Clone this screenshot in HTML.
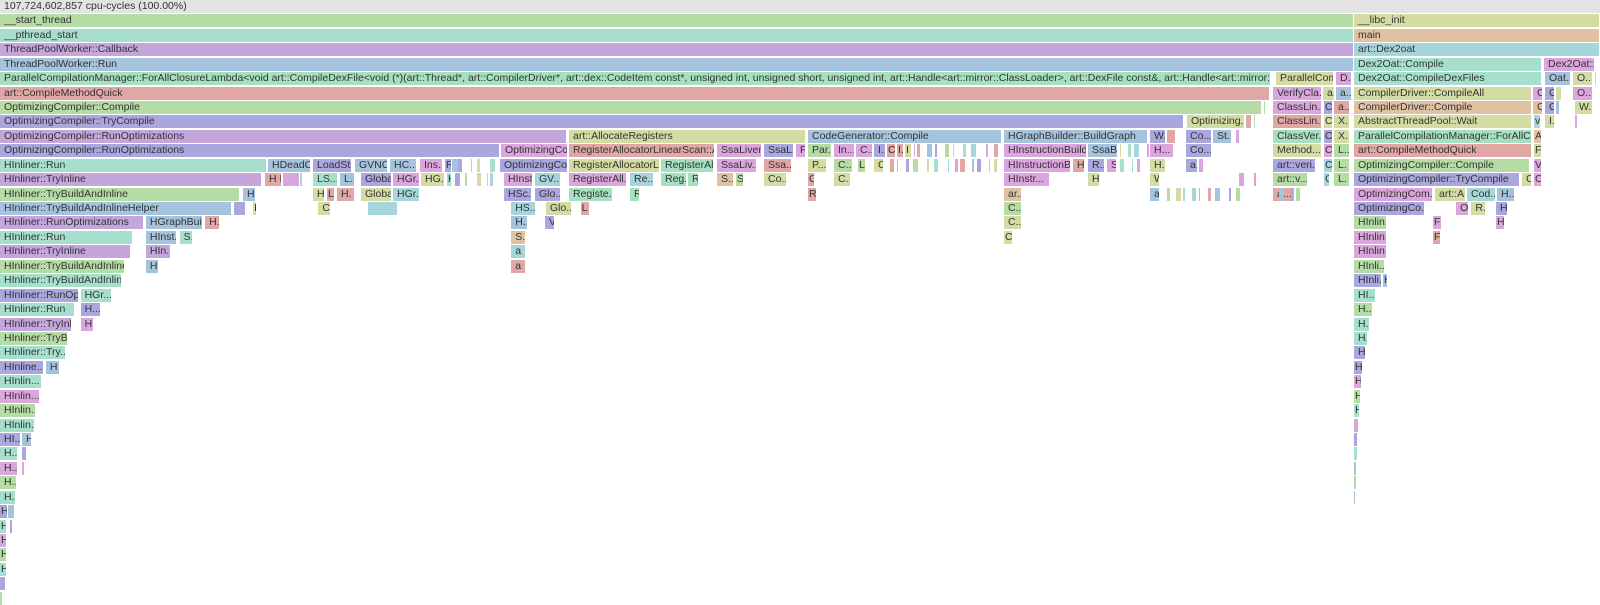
<!DOCTYPE html>
<html><head><meta charset="utf-8">
<style>
html,body{margin:0;padding:0;background:#fff;}
#c{position:relative;width:1600px;height:605px;overflow:hidden;font-family:"Liberation Sans",sans-serif;font-size:10.5px;color:#333;}
.b{position:absolute;height:13px;line-height:13px;overflow:hidden;white-space:nowrap;padding-left:4px;box-sizing:border-box;}
</style></head><body><div id="c"></div>
<script>
var C={G:'#b6dca5',T:'#a6dfcd',P:'#c4a6dc',B:'#a6c3de',R:'#e0a7a5',L:'#aaa6de',K:'#dba6dd',Y:'#d4dca4',O:'#e0c2a2',C:'#a6d6dc',M:'#a6e0c0'};
var S=1.0204,H=14.43;
var d=[
[1,0,1327,'G','__start_thread'],[1,1354,1600,'Y','__libc_init',1],
[2,0,1327,'T','__pthread_start'],[2,1354,1600,'O','main',1],
[3,0,1327,'P','ThreadPoolWorker::Callback'],[3,1354,1600,'C','art::Dex2oat',1],
[4,0,1327,'B','ThreadPoolWorker::Run'],[4,1354,1542,'T','Dex2Oat::Compile',1],[4,1544,1595,'K','Dex2Oat::...',1],
[5,0,1246,'M','ParallelCompilationManager::ForAllClosureLambda<void art::CompileDexFile<void (*)(art::Thread*, art::CompilerDriver*, art::dex::CodeItem const*, unsigned int, unsigned short, unsigned int, art::Handle<art::mirror::ClassLoader>, art::DexFile const&, art::Handle<art::mirror::DexCache>, unsigned short)>(art::...'],
[5,1276,1334,'Y','ParallelCom...',1],[5,1336,1352,'K','D...',1],[5,1354,1542,'T','Dex2Oat::CompileDexFiles',1],[5,1545,1571,'B','Oat...',1],[5,1573,1593,'Y','O...',1],[5,1595,1597,'Y','',1],
[6,0,1270,'R','art::CompileMethodQuick',1],[6,1273,1322,'K','VerifyCla...',1],[6,1323,1335,'Y','a.',1],[6,1336,1352,'B','a...',1],[6,1354,1532,'Y','CompilerDriver::CompileAll',1],[6,1533,1543,'K','C',1],[6,1545,1555,'L','O',1],[6,1556,1562,'Y','',1],[6,1573,1593,'K','O...',1],
[7,0,1262,'G','OptimizingCompiler::Compile',1],[7,1264,1266,'G','',1],[7,1273,1322,'K','ClassLin...',1],[7,1324,1333,'L','C',1],[7,1334,1350,'R','a...',1],[7,1354,1532,'O','CompilerDriver::Compile',1],[7,1533,1543,'O','C',1],[7,1545,1555,'L','O',1],[7,1556,1560,'B','',1],[7,1575,1593,'Y','W...',1],
[8,0,1184,'L','OptimizingCompiler::TryCompile',1],[8,1187,1245,'Y','Optimizing...',1],[8,1246,1252,'R','',1],[8,1254,1256,'G','',1],[8,1273,1322,'R','ClassLin...',1],[8,1324,1333,'Y','C',1],[8,1334,1350,'Y','X.',1],[8,1354,1532,'Y','AbstractThreadPool::Wait',1],[8,1534,1541,'C','v',1],[8,1545,1555,'Y','I.',1],[8,1575,1578,'K','',1],
[9,0,567,'P','OptimizingCompiler::RunOptimizations',1],[9,569,806,'Y','art::AllocateRegisters',1],[9,808,1002,'B','CodeGenerator::Compile',1],[9,1004,1148,'B','HGraphBuilder::BuildGraph',1],[9,1150,1166,'L','W.',1],[9,1167,1176,'R','',1],[9,1186,1212,'L','Co...',1],[9,1213,1232,'B','St...',1],[9,1236,1240,'K','',1],[9,1273,1322,'M','ClassVer...',1],[9,1324,1333,'L','C',1],[9,1334,1350,'Y','X.',1],[9,1354,1532,'M','ParallelCompilationManager::ForAllClos...',1],[9,1534,1542,'O','A',1],
[10,0,500,'L','OptimizingCompiler::RunOptimizations',1],[10,501,568,'K','OptimizingCo...',1],[10,569,715,'R','RegisterAllocatorLinearScan::All...',1],[10,717,762,'K','SsaLiven...',1],[10,764,794,'L','SsaL...',1],[10,796,806,'K','F',1],[10,808,832,'G','Par...',1],[10,834,855,'K','In...',1],[10,856,873,'K','C...',1],[10,874,886,'L','I...',1],[10,887,896,'R','C',1],[10,897,904,'R','I.',1],[10,905,912,'Y','I',1],[10,1004,1087,'K','HInstructionBuilde...',1],[10,1088,1118,'B','SsaB...',1],[10,1150,1174,'K','H...',1],[10,1186,1212,'L','Co...',1],[10,1273,1322,'Y','Method...',1],[10,1324,1333,'K','C',1],[10,1334,1350,'G','L...',1],[10,1354,1532,'R','art::CompileMethodQuick',1],[10,1534,1542,'Y','F',1],
[11,0,267,'T','HInliner::Run',1],[11,268,311,'B','HDeadC...',1],[11,313,352,'L','LoadSt...',1],[11,355,388,'B','GVNO...',1],[11,390,417,'B','HC...',1],[11,420,443,'K','Ins...',1],[11,445,452,'L','R',1],[11,454,460,'B','',1],[11,500,568,'L','OptimizingCo...',1],[11,569,660,'Y','RegisterAllocatorLi...',1],[11,661,714,'M','RegisterAl...',1],[11,717,757,'K','SsaLiv...',1],[11,764,792,'R','Ssa...',1],[11,808,827,'Y','P...',1],[11,834,853,'G','C...',1],[11,858,866,'G','L',1],[11,874,884,'Y','C',1],[11,1004,1071,'K','HInstructionB...',1],[11,1073,1085,'R','H',1],[11,1088,1105,'L','R..',1],[11,1107,1117,'K','S',1],[11,1150,1166,'Y','H..',1],[11,1186,1198,'L','a.',1],[11,1199,1204,'K','',1],[11,1273,1316,'L','art::veri...',1],[11,1324,1333,'C','C',1],[11,1334,1350,'G','L.',1],[11,1354,1530,'G','OptimizingCompiler::Compile',1],[11,1534,1542,'K','V',1],
[12,0,262,'P','HInliner::TryInline',1],[12,265,282,'R','H H',1],[12,283,300,'K','',1],[12,313,338,'T','LS...',1],[12,340,355,'B','L...',1],[12,361,392,'L','Globa...',1],[12,393,420,'K','HGr...',1],[12,421,445,'Y','HG...',1],[12,447,452,'T','H',1],[12,504,533,'K','HInst...',1],[12,535,561,'C','GV...',1],[12,569,627,'K','RegisterAll...',1],[12,630,654,'C','Re...',1],[12,661,687,'M','Reg...',1],[12,688,699,'M','R.',1],[12,717,734,'O','S...',1],[12,736,744,'G','S',1],[12,764,787,'Y','Co...',1],[12,808,815,'R','C',1],[12,834,851,'Y','C.',1],[12,1004,1050,'K','HInstr...',1],[12,1088,1100,'Y','H',1],[12,1150,1160,'Y','W',1],[12,1273,1308,'G','art::v...',1],[12,1324,1330,'C','C',1],[12,1334,1350,'G','L.',1],[12,1354,1520,'L','OptimizingCompiler::TryCompile',1],[12,1522,1532,'Y','C',1],[12,1534,1542,'K','C',1],
[13,0,240,'G','HInliner::TryBuildAndInline',1],[13,243,256,'B','H H',1],[13,313,325,'Y','H',1],[13,327,335,'R','L',1],[13,337,355,'R','H.',1],[13,361,392,'Y','Globa...',1],[13,393,420,'C','HGr...',1],[13,504,532,'L','HSc...',1],[13,535,561,'L','Glo...',1],[13,569,613,'M','Registe...',1],[13,630,640,'M','R',1],[13,808,817,'R','R',1],[13,1004,1022,'O','ar...',1],[13,1150,1160,'B','a',1],[13,1273,1295,'R','a...',1],[13,1354,1433,'K','OptimizingCom...',1],[13,1435,1466,'Y','art::A...',1],[13,1467,1496,'C','Cod...',1],[13,1497,1515,'B','H...',1],
[14,0,227,'B','HInliner::TryBuildAndInlineHelper'],[14,229,241,'L',''],[14,248,252,'Y','F'],[14,312,324,'Y','C'],[14,361,390,'C',''],[14,501,525,'C','HS...'],[14,535,561,'Y','Glo...'],[14,569,578,'R','L'],[14,1004,1022,'G','C...',1],[14,1354,1425,'L','OptimizingCo...',1],[14,1427,1440,'K','O'],[14,1442,1456,'Y','R.'],[14,1496,1508,'L','H',1],
[15,0,141,'P','HInliner::RunOptimizations'],[15,143,199,'B','HGraphBuil...'],[15,201,216,'R','H...'],[15,501,518,'B','H...'],[15,534,544,'L','V'],[15,1004,1022,'Y','C...',1],[15,1354,1387,'G','HInlin...',1],[15,1433,1442,'K','F',1],[15,1496,1505,'K','H',1],
[16,0,130,'T','HInliner::Run'],[16,143,174,'B','HInst...'],[16,176,189,'T','S.'],[16,501,516,'O','S...'],[16,1004,1013,'Y','C',1],[16,1354,1387,'K','HInlin...',1],[16,1433,1441,'R','F',1],
[17,0,128,'P','HInliner::TryInline'],[17,143,168,'P','HIn...'],[17,501,516,'C','a'],[17,1354,1387,'K','HInlin...',1],
[18,0,122,'G','HInliner::TryBuildAndInline'],[18,143,156,'B','H.'],[18,501,516,'R','a'],[18,1354,1385,'G','HInli...',1],
[19,0,120,'T','HInliner::TryBuildAndInlin...'],[19,1354,1382,'L','HInli...',1],[19,1383,1388,'B','H',1],
[20,0,77,'L','HInliner::RunOp...'],[20,79,110,'T','HGr...'],[20,1354,1376,'T','HI...',1],
[21,0,73,'T','HInliner::Run'],[21,79,99,'L','H...'],[21,1354,1373,'G','H...',1],
[22,0,71,'P','HInliner::TryInl...'],[22,79,92,'K','H.'],[22,1354,1370,'T','H...',1],
[23,0,67,'G','HInliner::TryB...'],[23,1354,1368,'T','H...',1],
[24,0,65,'T','HInliner::Try...'],[24,1354,1366,'L','H...',1],
[25,0,43,'L','HInline...'],[25,45,59,'B','H'],[25,1354,1363,'L','H',1],
[26,0,41,'T','HInlin...'],[26,1354,1362,'K','H',1],
[27,0,39,'K','HInlin...'],[27,1354,1361,'G','H',1],
[28,0,36,'G','HInlin...',1],[28,1354,1360,'T','H',1],
[29,0,35,'T','HInlin...',1],[29,1354,1359,'K','',1],
[30,0,21,'L','HI...',1],[30,22,32,'B','H',1],[30,1354,1358,'L','',1],
[31,0,18,'T','H...',1],[31,22,27,'L','',1],[31,1354,1358,'T','',1],
[32,0,18,'K','H...',1],[32,22,25,'K','',1],[32,1354,1357,'B','',1],
[33,0,17,'G','H...',1],[33,1354,1357,'G','',1],
[34,0,16,'T','H...',1],[34,1354,1356,'B','',1],
[35,0,8,'L','H',1],[35,8,15,'B','',1],
[36,0,7,'T','H',1],[36,10,13,'L','',1],
[37,0,7,'K','H',1],[38,0,7,'G','H',1],[39,0,7,'T','H',1],[40,0,6,'L','',1],[41,0,3,'G','',1]
];
var sl=[[10,914,1000],[11,890,1000],[11,452,498],[12,455,498],[13,1167,1245],[10,1120,1148],[11,1120,1148],[12,300,310],[12,1239,1258],[13,1274,1300]];
var cols='KRBLGYTC';
sl.forEach(function(s,i){for(var x=s[1],k=0;x<s[2];k++){var w=2+((k*7+i*3)%5);d.push([s[0],x,x+w,cols[(k+i)%8],'',1]);x+=w+1+((k*5+i)%9);}});
var c=document.getElementById('c');
var h=document.createElement('div');h.className='b';h.style.cssText='left:0;top:0;width:1600px;background:#e3e3e3';h.textContent='107,724,602,857 cpu-cycles (100.00%)';c.appendChild(h);
d.forEach(function(e){var x1=e[1],x2=e[2];if(!e[5]){x1*=S;x2*=S;}x2=Math.min(x2,1600);
var b=document.createElement('div');b.className='b';b.style.left=x1.toFixed(1)+'px';b.style.width=Math.max(1,(x2-x1-1)).toFixed(1)+'px';b.style.top=(e[0]*H).toFixed(1)+'px';b.style.background=C[e[3]];b.textContent=e[4];if(x2-x1<10)b.style.paddingLeft='1px';c.appendChild(b);});
</script></body></html>
